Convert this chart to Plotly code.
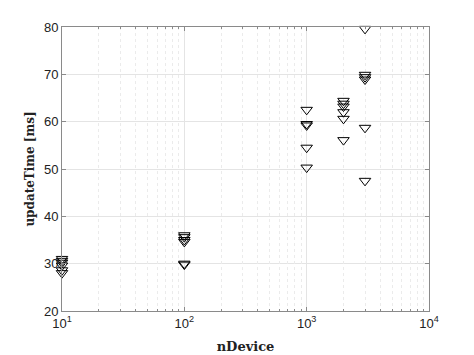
import plotly.graph_objects as go

n_device = [10]*6 + [100]*6 + [1000]*5 + [2000]*6 + [3000]*6
update_time = [31.0, 30.6, 30.2, 29.6, 28.6, 28.0,
               36.0, 35.6, 35.0, 34.6, 30.0, 29.8,
               62.5, 59.5, 59.2, 54.5, 50.3,
               64.4, 63.8, 63.2, 62.0, 60.6, 56.1,
               79.6, 69.9, 69.4, 68.9, 58.7, 47.5]

x_tickvals = [10, 100, 1000, 10000]
x_ticktext = ["10<sup>1</sup>", "10<sup>2</sup>", "10<sup>3</sup>", "10<sup>4</sup>"]
x_minor_vals = [m * d for d in (10, 100, 1000) for m in range(2, 10)]
y_tickvals = [20, 30, 40, 50, 60, 70, 80]

AX = "#8a8a8a"
TXT = "#222222"

fig = go.Figure()
fig.add_trace(go.Scatter(
    x=n_device, y=update_time, mode="markers", cliponaxis=False,
    marker=dict(symbol="triangle-down-open", size=10, color="black",
                line=dict(width=1, color="black")),
    showlegend=False, xaxis="x", yaxis="y",
))
# invisible trace to anchor the minor-grid overlay axis
fig.add_trace(go.Scatter(x=[10, 10000], y=[None, None], mode="markers",
                         xaxis="x2", yaxis="y", showlegend=False, hoverinfo="skip"))

fig.update_layout(
    width=466, height=347,
    margin=dict(l=54, r=45, t=19, b=44, autoexpand=False),
    paper_bgcolor="white", plot_bgcolor="white",
    xaxis2=dict(
        type="log", range=[1, 4], overlaying="x", side="bottom",
        tickvals=x_minor_vals, showticklabels=False,
        ticks="inside", ticklen=2, tickcolor=AX, mirror="ticks",
        showline=False, showgrid=True, gridcolor="#ebebeb", griddash="dot", gridwidth=1,
        zeroline=False, layer="below traces", automargin=False,
    ),
    xaxis=dict(
        type="log", range=[1, 4], tickvals=x_tickvals, ticktext=x_ticktext,
        showline=True, linecolor=AX, linewidth=1, mirror="ticks",
        ticks="inside", ticklen=4, tickcolor=AX,
        gridcolor="#e4e4e4", gridwidth=1, zeroline=False, automargin=False,
        tickfont=dict(family="Liberation Sans, Arial", size=13, color=TXT),
        title=dict(text="<b>nDevice</b>", font=dict(family="DejaVu Serif", size=13, color=TXT), standoff=12),
    ),
    yaxis=dict(
        range=[20, 80], tickvals=y_tickvals,
        showline=True, linecolor=AX, linewidth=1, mirror="ticks",
        ticks="inside", ticklen=4, tickcolor=AX,
        gridcolor="#e4e4e4", gridwidth=1, zeroline=False, automargin=False,
        tickfont=dict(family="Liberation Sans, Arial", size=13, color=TXT),
        title=dict(text="<b>updateTime [ms]</b>", font=dict(family="DejaVu Serif", size=12, color=TXT), standoff=6),
    ),
)

fig.write_html("out.html")
